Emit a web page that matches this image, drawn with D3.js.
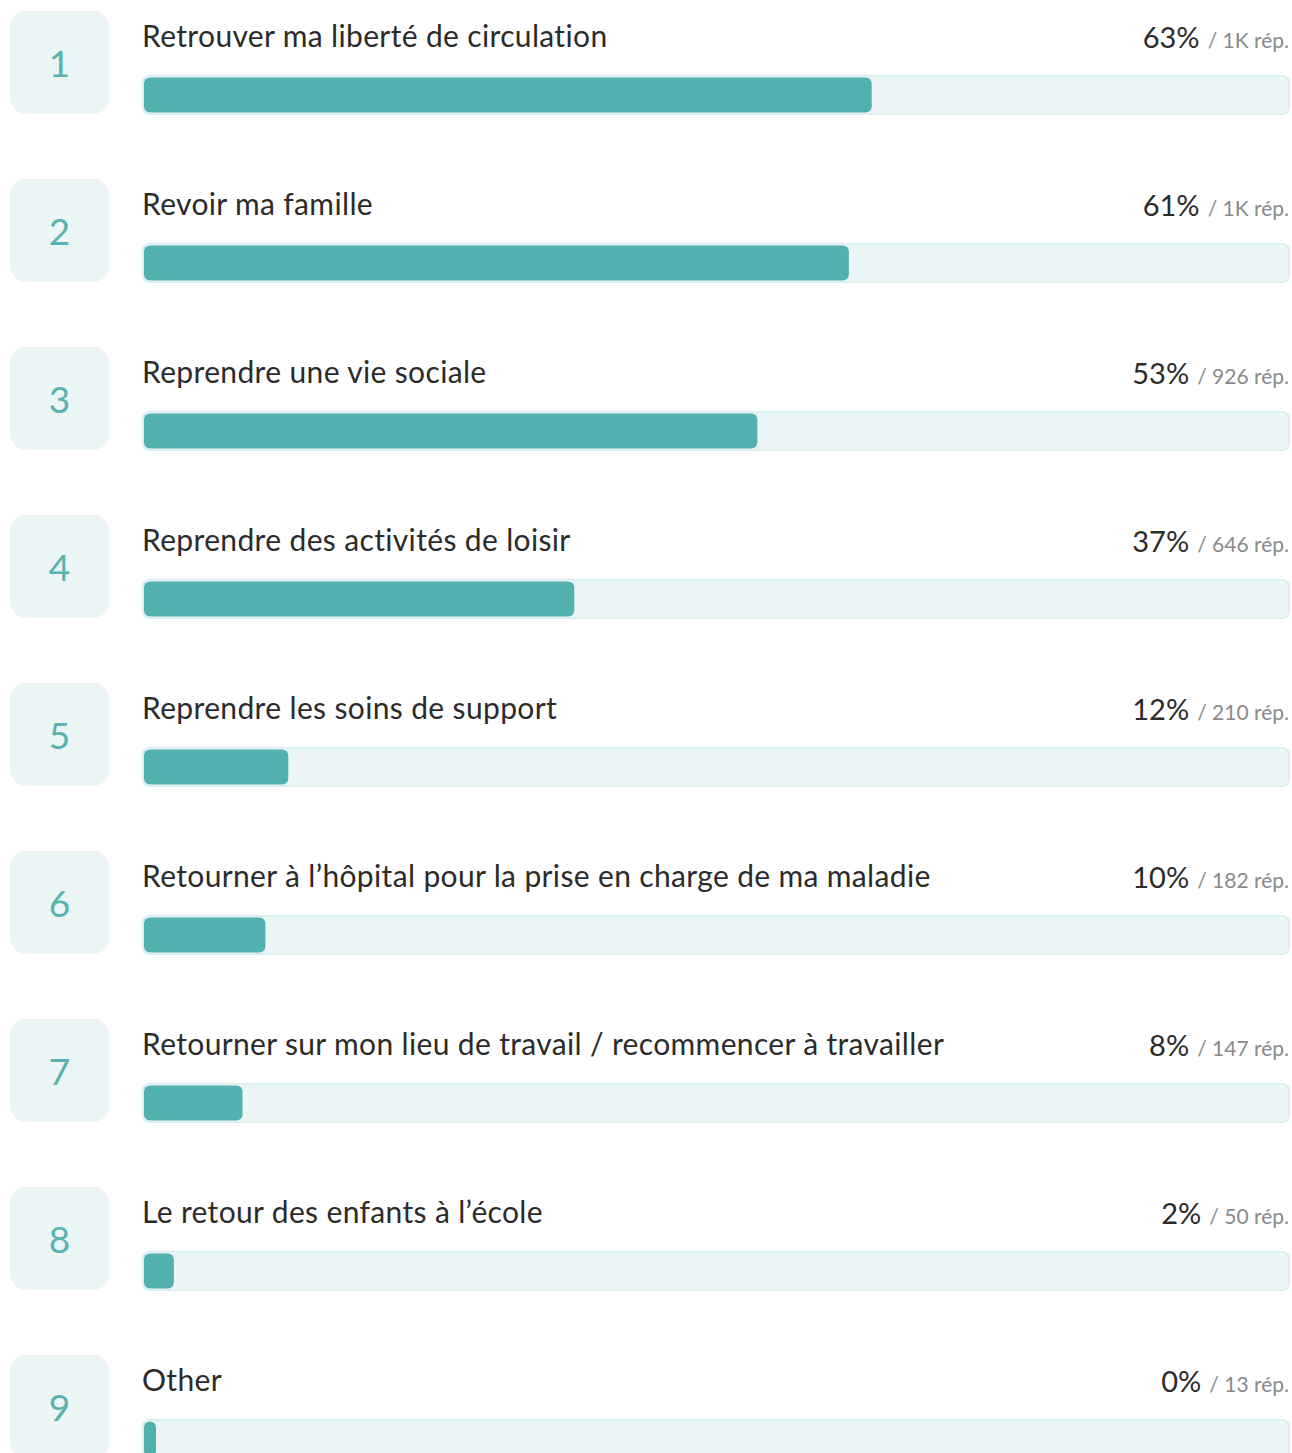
<!DOCTYPE html>
<html>
<head>
<meta charset="utf-8">
<script src="https://cdn.jsdelivr.net/npm/d3@7"></script>
<style>
  html, body { margin: 0; padding: 0; background: #ffffff; }
  svg { display: block; }
</style>
</head>
<body>
<svg id="chart" width="1292" height="1453"></svg>
<script>
// Answer options, ranked
const ranks = [1, 2, 3, 4, 5, 6, 7, 8, 9];
const labels = [
  "Retrouver ma liberté de circulation",
  "Revoir ma famille",
  "Reprendre une vie sociale",
  "Reprendre des activités de loisir",
  "Reprendre les soins de support",
  "Retourner à l’hôpital pour la prise en charge de ma maladie",
  "Retourner sur mon lieu de travail / recommencer à travailler",
  "Le retour des enfants à l’école",
  "Other"
];
// Share of respondents (%) and number of responses shown next to it
const percents = [63, 61, 53, 37, 12, 10, 8, 2, 0];
const responses = ["1K", "1K", "926", "646", "210", "182", "147", "50", "13"];

const FONT = "Lato, 'Noto Sans', sans-serif";
const svg = d3.select("#chart");

const rowStep = 168;
const firstRowY = 11;
const trackX = 142, trackW = 1148, trackH = 40;
const barPad = 2;
const barCap = 7;     // rounded end cap added to every bar
const barMin = 12;    // smallest visible bar

const y = d3.scaleLinear().domain([0, 1]).range([firstRowY, firstRowY + rowStep]);
const x = d3.scaleLinear().domain([0, 100]).range([0, trackW - 2 * barPad]);

const rows = svg.selectAll("g.row")
  .data(ranks.map((r, i) => ({ rank: r, label: labels[i], pct: percents[i], n: responses[i] })))
  .join("g")
  .attr("class", "row")
  .attr("transform", (d, i) => `translate(0,${y(i)})`);

// rank badge
rows.append("rect")
  .attr("x", 10).attr("y", 0)
  .attr("width", 99).attr("height", 103)
  .attr("rx", 16)
  .attr("fill", "#ebf5f5");

rows.append("text")
  .attr("x", 59.5).attr("y", 66)
  .attr("text-anchor", "middle")
  .style("font-family", FONT)
  .style("font-size", "37px")
  .attr("fill", "#56b3af")
  .text(d => d.rank);

// option label
rows.append("text")
  .attr("x", trackX).attr("y", 36)
  .style("font-family", FONT)
  .style("font-size", "30px")
  .style("letter-spacing", "0.35px")
  .attr("fill", "#2b2b2b")
  .text(d => d.label);

// value label: percent + response count
const val = rows.append("text")
  .attr("x", 1289).attr("y", 37)
  .attr("text-anchor", "end")
  .style("font-family", FONT);
val.append("tspan")
  .style("font-size", "29px")
  .attr("fill", "#2b2b2b")
  .text(d => d.pct + "%");
val.append("tspan")
  .attr("dx", 8)
  .style("font-size", "21px")
  .attr("fill", "#8a8a8a")
  .text(d => "/ " + d.n + " rép.");

// track
rows.append("rect")
  .attr("x", trackX + 0.75).attr("y", 64.75)
  .attr("width", trackW - 1.5).attr("height", trackH - 1.5)
  .attr("rx", 7)
  .attr("fill", "#ebf5f5")
  .attr("stroke", "#d7eded")
  .attr("stroke-width", 1.5);

// value bar
rows.append("rect")
  .attr("x", trackX + barPad).attr("y", 64 + barPad + 0.5)
  .attr("width", d => Math.max(barMin, x(d.pct) + barCap))
  .attr("height", trackH - 2 * barPad - 1)
  .attr("rx", 6)
  .attr("fill", "#52b0ae");
</script>
</body>
</html>
